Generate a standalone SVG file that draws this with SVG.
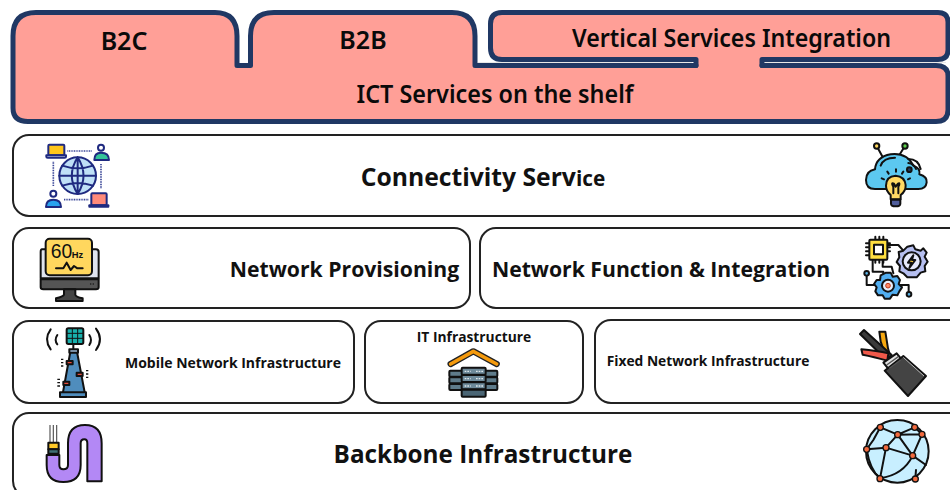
<svg xmlns="http://www.w3.org/2000/svg" width="950" height="490" viewBox="0 0 950 490">
<style>
.box{fill:#fff;stroke:#222;stroke-width:2}
.line{fill:none;stroke:#203864;stroke-width:5;stroke-linejoin:round;stroke-linecap:round}
.pink{fill:#ff9f97}
.hair{fill:none;stroke:#e8e8e8;stroke-width:1.200}
.t{font-family:"Open Sans","Noto Sans",sans-serif;font-weight:700;fill:#111;text-anchor:middle}
.h{font-family:"Noto Sans","Open Sans",sans-serif;font-weight:600;fill:#0a0a0a;text-anchor:middle;font-size:25px}
.k{stroke:#111;stroke-width:6;stroke-linejoin:round;stroke-linecap:round}
.n{stroke:#1f2a80;stroke-width:6;stroke-linejoin:round;stroke-linecap:round}
.none{fill:none}
.dot{fill:none;stroke:#3a4698;stroke-width:5;stroke-dasharray:3 2}
</style>
<rect width="950" height="490" fill="#fff"/>
<g id="connectors"></g>
<g id="ict-services">
<path class="pink" d="M13,36 Q13,12.500 36,12.500 H215 Q237,12.500 237,36 V65.500 H250.500 V36 Q250.500,12.500 274,12.500 H452 Q475,12.500 475,36 V65.500 H936 Q948,65.500 948,76 V110 Q948,121.500 936,121.500 H28 Q13,121.500 13,108 Z"/>
<path class="pink" d="M697,55 H760 V70 H697 Z"/>
<path class="line" d="M696,65.500 H475 V36 Q475,12.500 452,12.500 H274 Q250.500,12.500 250.500,36 V65.500 H237 V36 Q237,12.500 215,12.500 H36 Q13,12.500 13,36 V108 Q13,121.500 28,121.500 H936 Q948,121.500 948,110 V76 Q948,65.500 936,65.500 H762"/>
<text class="h" x="495" y="103" textLength="277" lengthAdjust="spacingAndGlyphs">ICT Services on the shelf</text>
</g>
<g id="b2c"><text class="h" x="124" y="50">B2C</text></g>
<g id="b2b"><text class="h" x="363" y="49">B2B</text></g>
<g id="vertical-services">
<path class="pink" d="M697,59.500 H502 Q490.500,59.500 490.500,48 V24 Q490.500,12.500 502,12.500 H938 Q948,12.500 948,22 V50 Q948,59.500 938,59.500 H760 Z"/>
<path class="line" d="M696,65.500 V59.500 H502 Q490.500,59.500 490.500,48 V24 Q490.500,12.500 502,12.500 H938 Q948,12.500 948,22 V50 Q948,59.500 938,59.500 H762 V65.500"/>
<path class="hair" d="M478,62.500 H692 M765,62.500 H946"/>
<text class="h" x="731.500" y="47" textLength="319" lengthAdjust="spacingAndGlyphs">Vertical Services Integration</text>
</g>
<g id="connectivity">
<rect class="box" x="13" y="135" width="960" height="81" rx="16"/>
<text class="t" x="483" y="186"><tspan font-size="24.700">Connectivity Serv</tspan><tspan font-size="20.800">ice</tspan></text>
<g transform="translate(30,135) scale(.3333)">
<path class="dot" d="M112,48 H185 M70,80 V155 M213,87 V162 M102,194 H175"/>
<rect x="55" y="29" width="48" height="32" rx="3" fill="#ffc61b" class="n"/>
<path d="M49,61 H108 V65 Q108,68 104,68 H53 Q49,68 49,65 Z" fill="#dfe8f8" class="n"/>
<circle cx="213" cy="38" r="9" fill="#fff" class="n"/>
<path d="M193,75 Q193,53 213,53 Q237,53 237,75 H193 Z" fill="#35c49a" class="n"/>
<circle cx="70" cy="176" r="9" fill="#fff" class="n"/>
<path d="M48,216 Q48,194 70,194 Q93,194 93,216 Z" fill="#2aa3ef" class="n"/>
<rect x="184" y="175" width="46" height="36" rx="3" fill="#ff8a7a" class="n"/>
<path d="M178,211 H235 V215 H178 Z" fill="#dfe8f8" class="n"/>
<circle cx="143" cy="122" r="55" fill="#bfe0f7" class="n"/>
<path class="n none" d="M143,67 V177 M88,122 H198 M97,92 Q143,108 189,92 M97,152 Q143,136 189,152 M143,67 Q108,122 143,177 M143,67 Q178,122 143,177"/>
</g>
<g transform="translate(850,135) scale(.3333)">
<path class="k none" d="M80,33 L98,66 M165,33 L148,60"/>
<circle cx="80" cy="33" r="8" fill="#ffd75e" class="k"/>
<circle cx="165" cy="33" r="8" fill="#5bd04a" class="k"/>
<path class="k" fill="#5cc8f0" d="M75,162 Q48,162 48,135 Q48,108 75,103 Q78,66 122,58 Q170,52 190,92 Q212,100 208,118 Q232,125 230,142 Q228,162 205,162 Z"/>
<path class="k none" d="M92,92 Q100,68 135,68 M175,72 Q205,72 212,102 M175,84 Q192,86 198,102"/>
<circle cx="178" cy="104" r="7" fill="#1f3a63" class="k"/>
<path class="k none" d="M95,130 L102,133 M112,110 L116,116 M138,103 V110 M160,110 L156,116 M180,130 L174,133"/>
<path class="k" fill="#ffd964" d="M137,122 Q108,124 108,152 Q108,168 122,180 V193 H152 V180 Q168,168 167,150 Q164,124 137,122 Z"/>
<path class="k none" d="M130,175 V155 Q122,142 132,146 L137,155 L144,146 Q152,142 145,155 V175"/>
<path d="M123,194 H151 V206 Q151,214 137,214 Q123,214 123,206 Z" fill="#4f5d9b" class="k"/>
</g>
</g>
<g id="network-provisioning">
<rect class="box" x="13" y="228" width="457" height="80" rx="16"/>
<text class="t" x="344.500" y="277" font-size="21.200">Network Provisioning</text>
<g transform="translate(30,230) scale(.3333)">
<path class="k" fill="#dfe3ee" d="M36,58 H198 Q206,58 206,66 V145 H32 V66 Q32,58 36,58 Z"/>
<path class="k" fill="#555" d="M32,148 H206 V172 Q206,178 198,178 H40 Q32,178 32,172 Z"/>
<path class="k" fill="#444" d="M102,178 H136 V194 Q136,200 158,205 V213 H78 V205 Q100,200 102,194 Z"/>
<path d="M180,162 H194" stroke="#222" stroke-width="5" stroke-dasharray="4 4"/>
<rect x="47" y="26" width="139" height="110" rx="12" fill="#ffd75e" class="k"/>
<text x="62" y="85" font-family="Liberation Sans,sans-serif" font-size="58" fill="#111">60</text>
<text x="125" y="84" font-family="Liberation Sans,sans-serif" font-size="28" font-weight="700" fill="#111">Hz</text>
<path class="k none" d="M78,115 H100 L110,98 L122,120 L132,108 L142,115 H158"/>
</g>
</g>
<g id="network-function">
<rect class="box" x="480" y="228" width="490" height="80" rx="16"/>
<text class="t" x="661" y="277" font-size="21.200">Network Function &amp; Integration</text>
<g transform="translate(850,230) scale(.3333)">
<path class="k none" d="M112,45 H145 L160,62 M68,90 V125 H100 V135 M98,85 V110 H125 L130,130 M50,135 V165 H80 M150,165 H176 V188"/>
<circle cx="50" cy="130" r="7" fill="#5ab4e8" class="k"/>
<circle cx="177" cy="193" r="7" fill="#5ab4e8" class="k"/>
<path class="k none" d="M58,40 H48 M58,52 H48 M58,64 H48 M58,76 H48 M120,40 H112 M120,52 H112 M120,64 H112 M76,30 V20 M88,30 V20 M100,30 V20 M76,90 V98 M88,90 V98 M100,90 V98"/>
<rect x="58" y="29" width="54" height="60" rx="3" fill="#ffdf40" class="k"/>
<rect x="72" y="44" width="27" height="29" fill="#fff" class="k"/>
<path class="k" fill="#b6bff0" d="M172,50 L190,46 L196,58 L212,62 L220,55 L230,68 L224,80 L233,95 L224,108 L226,124 L212,128 L200,142 L186,142 L172,142 L160,130 L148,124 L150,108 L140,96 L148,82 L146,66 L160,62 Z"/>
<circle cx="185" cy="94" r="27" fill="#e6e9fb" class="k"/>
<path class="k" fill="#ffd23e" d="M190,76 L174,98 H184 L178,114 L196,90 H186 Z"/>
<path class="k" fill="#52aef0" d="M108,128 L122,128 L128,140 L142,138 L150,150 L146,162 L156,172 L148,184 L142,196 L128,194 L120,206 L104,206 L98,196 L84,196 L76,184 L80,172 L72,162 L80,150 L90,150 L92,136 Z"/>
<circle cx="114" cy="167" r="18" fill="#e6eefb" class="k"/>
<circle cx="114" cy="167" r="7" fill="#ff8a65" stroke="#c0391b" stroke-width="3"/>
</g>
</g>
<g id="mobile-network">
<rect class="box" x="13" y="321" width="341" height="82" rx="16"/>
<text class="t" x="233" y="368" font-size="14">Mobile Network Infrastructure</text>
<g transform="translate(30,320) scale(.3333)">
<path class="k none" d="M62,28 Q40,58 62,88 M82,45 Q72,60 82,73 M198,26 Q222,58 198,90 M178,45 Q188,60 178,75"/>
<path d="M122,90 H140 L165,222 H98 Z" fill="#4f8dbd" class="k"/>
<rect x="110" y="25" width="50" height="47" rx="5" fill="#18b0ac" class="k"/>
<path d="M110,40 H160 M110,55 H160 M127,25 V72 M143,25 V72" stroke="#111" stroke-width="3"/>
<path class="k" fill="#9bb8d4" d="M130,72 V85 M118,88 H144 V98 H118 Z"/>
<rect x="90" y="217" width="78" height="14" fill="#4f8dbd" class="k"/>
<rect x="110" y="123" width="18" height="10" fill="#e74c3c" class="k"/>
<rect x="140" y="158" width="18" height="10" fill="#e74c3c" class="k"/>
<rect x="100" y="185" width="18" height="10" fill="#e74c3c" class="k"/>
<path d="M93,118 H100 M93,128 H100 M93,138 H100 M168,152 H175 M168,162 H175 M168,172 H175 M82,178 H90 M82,188 H90 M82,198 H90" stroke="#111" stroke-width="4"/>
</g>
</g>
<g id="it-infrastructure">
<rect class="box" x="365" y="321" width="218" height="82" rx="16"/>
<text class="t" x="474" y="342" font-size="13.800">IT Infrastructure</text>
<g transform="translate(430,320) scale(.3333)">
<path d="M62,132 L130,94 L200,132" fill="none" stroke="#222" stroke-width="19" stroke-linecap="round" stroke-linejoin="round"/>
<path d="M62,132 L130,94 L200,132" fill="none" stroke="#f59a0c" stroke-width="11" stroke-linecap="round" stroke-linejoin="round"/>
<g class="k" fill="#5f7c8b">
<rect x="58" y="152" width="42" height="18" rx="3"/>
<rect x="58" y="172" width="42" height="18" rx="3"/>
<rect x="58" y="192" width="42" height="18" rx="3"/>
<rect x="160" y="152" width="42" height="18" rx="3"/>
<rect x="160" y="172" width="42" height="18" rx="3"/>
<rect x="160" y="192" width="42" height="18" rx="3"/>
</g>
<g class="k" fill="#6e8a9a">
<rect x="95" y="143" width="72" height="21" rx="3"/>
<rect x="95" y="165" width="72" height="21" rx="3"/>
<rect x="95" y="187" width="72" height="21" rx="3"/>
<rect x="95" y="209" width="72" height="21" rx="3" fill="#4b6675"/>
</g>
<path d="M104,154 H122 M104,176 H122 M104,198 H122 M138,154 H160 M138,176 H160 M138,198 H160" stroke="#dfe6ea" stroke-width="4" stroke-dasharray="5 3"/>
</g>
</g>
<g id="fixed-network">
<rect class="box" x="595" y="320" width="375" height="83" rx="16"/>
<text class="t" x="708" y="366" font-size="13.800">Fixed Network Infrastructure</text>
<g transform="translate(850,320) scale(.3333)">
<path d="M88,35 H106 L114,85 L118,100 L104,100 L92,65 Z" fill="#f5a70f" class="k"/>
<path d="M30,42 L42,30 L125,105 L110,120 Z" fill="#3b3b3b" class="k"/>
<path d="M34,88 Q80,92 115,100 L112,122 Q70,110 38,104 Z" fill="#f0594a" class="k"/>
<path d="M100,128 L140,100 L155,118 L118,150 Z" fill="#e2e2e2" class="k"/>
<path d="M104,152 L160,108 L228,168 L174,228 Z" fill="#444" class="k"/>
<path d="M160,112 L222,168" stroke="#fff" stroke-width="2" fill="none"/>
<path d="M110,135 L145,110 M118,145 L152,120" stroke="#555" stroke-width="4"/>
</g>
</g>
<g id="backbone">
<rect class="box" x="13" y="413" width="960" height="84" rx="16"/>
<text class="t" x="483" y="463" font-size="24.300">Backbone Infrastructure</text>
<g transform="translate(30,410) scale(.3333)">
<path d="M60,45 V100 M70,45 V100 M80,45 V100" stroke="#555" stroke-width="3.500"/>
<path class="k" fill="#b388f5" d="M50,135 H88 V165 Q88,178 100,178 Q114,178 114,165 V100 Q114,45 165,45 Q215,45 215,100 V214 H172 V100 Q172,88 163,88 Q152,88 152,100 V165 Q152,216 100,216 Q50,216 50,165 Z"/>
<rect x="55" y="98" width="31" height="20" fill="#ffc928" class="k"/>
<rect x="55" y="118" width="31" height="13" fill="#3f6f74" class="k"/>
</g>
<g transform="translate(850,410) scale(.3333)">
<circle cx="142" cy="124" r="94" fill="#c8efff" class="k"/>
<path class="k none" d="M91,52 L143,74 L194,52 M91,52 L70,90 L50,118 L108,113 L143,74 M143,74 L216,73 L194,52 M108,113 L188,137 L216,73 M143,74 L188,137 M108,113 L90,205 M50,118 Q60,180 90,205 M90,205 Q160,195 188,137 M188,137 L228,165 M196,205 L198,180"/>
<g fill="#f26a3e" stroke="#111" stroke-width="4">
<circle cx="91" cy="52" r="9"/><circle cx="143" cy="74" r="9"/><circle cx="194" cy="52" r="9"/><circle cx="216" cy="73" r="9"/><circle cx="50" cy="118" r="9"/><circle cx="108" cy="113" r="9"/><circle cx="188" cy="137" r="9"/><circle cx="90" cy="206" r="9"/><circle cx="196" cy="207" r="9"/>
</g>
</g>
</g>
</svg>
